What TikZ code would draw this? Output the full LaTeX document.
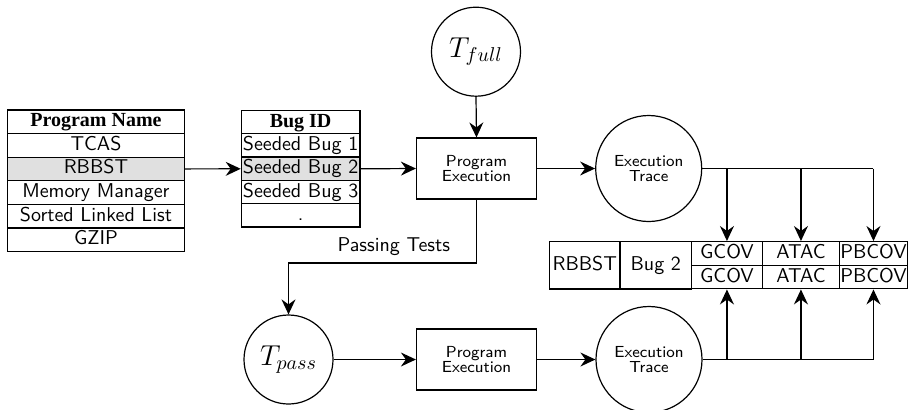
\documentclass[tikz,border=0pt]{standalone}
\usepackage{fontspec}
\newfontfamily\headfont{Liberation Serif}
\usetikzlibrary{arrows.meta,positioning}

\definecolor{rowhi}{gray}{0.88}

\tikzset{
  arr/.style={-{Stealth[length=7.5pt,width=7pt,inset=2.5pt]}},
  cell/.style={draw, anchor=north west, inner sep=0pt, font=\sffamily,
    minimum height=11.8pt, text height=7pt, text depth=2pt},
  headcell/.style={cell, font=\headfont\bfseries},
  procbox/.style={draw, inner sep=0pt, minimum width=60pt, minimum height=30.5pt,
    align=center, font=\sffamily\fontsize{8}{7.9}\selectfont},
  tracecirc/.style={draw, circle, inner sep=0pt, minimum size=53pt,
    align=center, font=\sffamily\fontsize{8}{7.9}\selectfont},
  testcirc/.style={draw, circle, inner sep=0pt, minimum size=44.5pt, font=\Large}
}

\begin{document}
\begin{tikzpicture}[x=0.5pt,y=-0.5pt,line width=0.6pt]
  \useasboundingbox (0,0) rectangle (910,409);
  \clip (0,0) rectangle (910,409);

  % program table
  \node[headcell, minimum width=88.65pt] (proghead) at (6.7,109.3) {Program Name};
  \foreach \name/\bg [count=\i] in {TCAS/white, RBBST/rowhi, Memory Manager/white,
      Sorted Linked List/white, GZIP/white}
    \node[cell, fill=\bg, minimum width=88.65pt] (prog\i) at (6.7,109.3+23.6*\i) {\name};

  % bug table
  \node[headcell, minimum width=59.3pt] (bughead) at (240.7,110) {Bug ID};
  \foreach \name/\bg [count=\i] in {Seeded Bug 1/white, Seeded Bug 2/rowhi,
      Seeded Bug 3/white, ./white}
    \node[cell, fill=\bg, minimum width=59.3pt] (bug\i) at (240.7,110+23.2*\i) {\name};

  % upper run
  \node[testcirc] (tfull) at (476,51.7) {$T_{full}$};
  \node[procbox] (exec1) at (476.5,168.5) {Program\\Execution};
  \node[tracecirc] (trace1) at (648.7,168.5) {Execution\\Trace};

  % lower run
  \node[testcirc] (tpass) at (288.5,359.5) {$T_{pass}$};
  \node[procbox] (exec2) at (476.5,359.5) {Program\\Execution};
  \node[tracecirc] (trace2) at (649,359.5) {Execution\\Trace};

  % result table
  \node[cell, minimum width=35.15pt, minimum height=23.65pt] (resprog) at (549,241) {RBBST};
  \node[cell, minimum width=35.85pt, minimum height=23.65pt] (resbug) at (619.3,241) {Bug 2};
  \foreach \tool/\lab/\x/\w in {gcov/GCOV/691/35.35, atac/ATAC/761.7/38.65,
      pbcov/PBCOV/839/33.85} {
    \node[cell, minimum width=\w pt] (\tool1) at (\x,241) {\lab};
    \node[cell, minimum width=\w pt] (\tool2) at (\x,264.65) {\lab};
  }

  % connectors
  \draw[arr] (prog2.east) -- (bug2.west);
  \draw[arr] (bug2.east) -- (exec1.west);
  \draw[arr] (tfull.south) -- (exec1.north);
  \draw[arr] (exec1.east) -- (trace1.west);

  \coordinate (bend) at (476.5,263);
  \draw[arr] (exec1.south) -- (bend) -| node[pos=0.22, above, font=\sffamily] {Passing Tests} (tpass.north);

  \draw[arr] (tpass.east) -- (exec2.west);
  \draw[arr] (exec2.east) -- (trace2.west);

  \draw (trace1.east) -- (trace1.east -| pbcov1.north);
  \draw (trace2.east) -- (trace2.east -| pbcov2.south);
  \foreach \tool in {gcov,atac,pbcov} {
    \draw[arr] (trace1.east -| \tool1.north) -- (\tool1.north);
    \draw[arr] (trace2.east -| \tool2.south) -- (\tool2.south);
  }
\end{tikzpicture}
\end{document}
